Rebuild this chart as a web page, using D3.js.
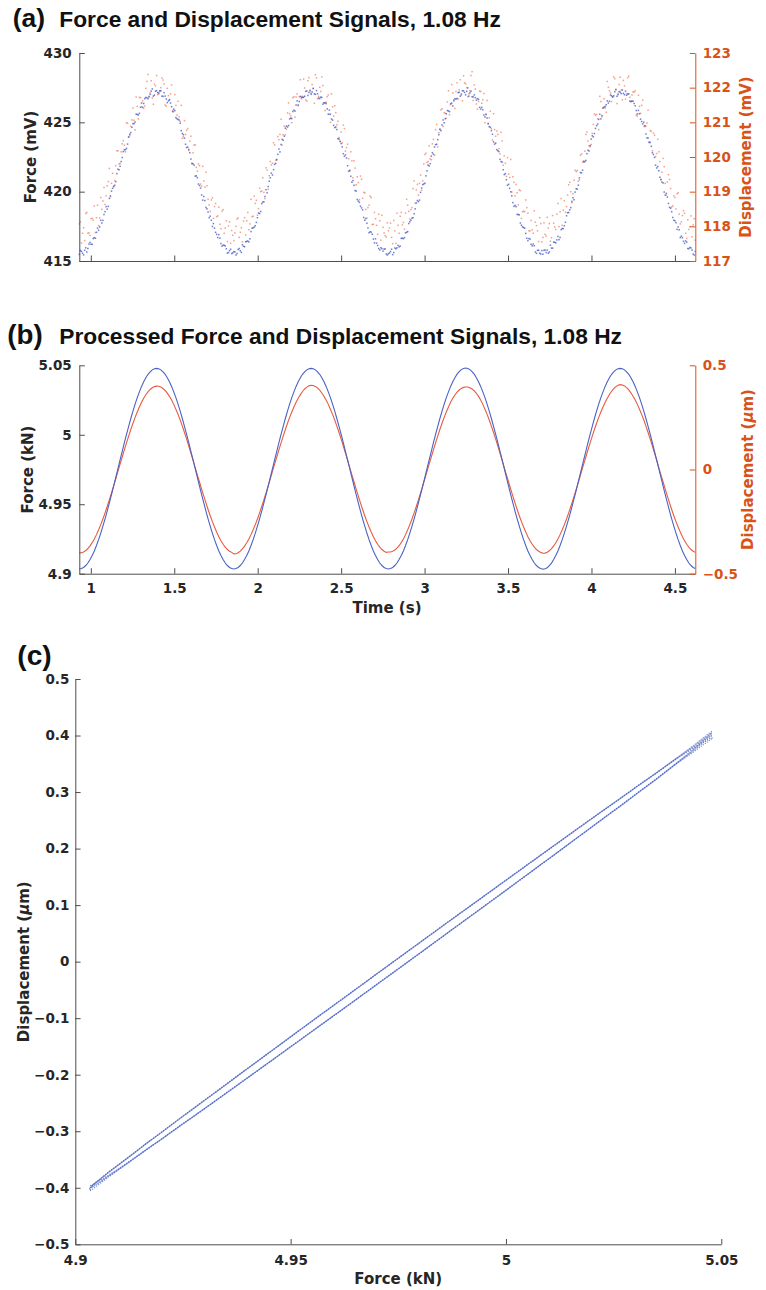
<!DOCTYPE html>
<html>
<head>
<meta charset="utf-8">
<script src="https://cdn.jsdelivr.net/npm/d3@7"></script>
<style>
  html, body { margin: 0; padding: 0; background: #fff; }
  svg { display: block; }
</style>
</head>
<body>
<svg id="fig" width="766" height="1290"></svg>
<script>
// ---- acquisition timing (s) ----
const startTime = 0.931;
const rawInterval = 0.0064305;     // raw channels
const sampleInterval = 0.012861;   // processed (decimated) signals

// ---- raw load-cell signal (mV) ----
const forceRaw = [
  415.48, 415.75, 415.70, 415.56, 415.44, 415.77, 415.95, 415.65, 415.90, 416.22, 416.34, 416.21,
  416.20, 416.62, 416.68, 416.64, 417.07, 417.37, 417.21, 417.46, 417.93, 417.74, 417.93, 418.35,
  418.56, 418.92, 418.74, 418.94, 419.51, 419.70, 420.04, 420.24, 420.36, 420.46, 420.72, 421.30,
  421.62, 421.58, 421.83, 422.17, 422.46, 422.89, 423.02, 423.03, 423.12, 423.43, 423.95, 424.14,
  424.26, 424.64, 424.91, 424.90, 425.02, 425.59, 425.57, 425.53, 425.65, 426.08, 426.39, 426.08,
  426.36, 426.71, 426.79, 426.78, 426.70, 426.83, 427.02, 427.25, 427.41, 426.89, 426.96, 427.24,
  427.29, 427.15, 427.11, 427.28, 427.28, 426.89, 426.87, 427.14, 426.89, 426.68, 426.42, 426.55,
  426.61, 426.39, 426.13, 425.77, 425.95, 425.85, 425.34, 425.26, 425.21, 425.17, 424.94, 424.40,
  424.20, 424.11, 423.86, 423.42, 423.18, 423.22, 423.05, 422.81, 422.35, 422.02, 422.01, 421.91,
  421.12, 421.14, 421.01, 420.55, 420.44, 420.26, 419.76, 419.39, 419.65, 419.36, 418.86, 418.76,
  418.53, 418.12, 418.23, 417.94, 417.49, 417.70, 417.37, 417.07, 416.92, 416.69, 416.90, 416.65,
  416.26, 416.07, 416.14, 416.13, 416.09, 415.88, 415.57, 415.61, 415.75, 415.85, 415.54, 415.58,
  415.67, 415.66, 415.43, 415.54, 415.83, 415.90, 415.74, 415.62, 416.17, 416.06, 416.03, 416.39,
  416.41, 416.44, 416.38, 416.60, 417.12, 417.36, 417.39, 417.44, 417.54, 417.78, 418.12, 418.46,
  418.42, 418.57, 419.14, 419.25, 419.27, 419.65, 420.14, 419.92, 420.37, 420.75, 421.00, 421.34,
  421.20, 421.59, 421.97, 422.04, 422.32, 422.69, 423.07, 422.87, 423.40, 423.77, 423.71, 424.00,
  424.58, 424.73, 424.66, 424.77, 425.25, 425.30, 425.27, 425.78, 425.88, 425.81, 426.25, 426.55,
  426.25, 426.50, 426.87, 426.80, 426.80, 426.80, 426.88, 427.23, 427.26, 426.94, 427.15, 427.27,
  427.02, 427.19, 427.44, 427.05, 427.02, 427.29, 427.06, 426.76, 426.71, 426.82, 426.79, 426.31,
  426.41, 426.41, 426.35, 425.97, 425.59, 425.88, 425.58, 425.24, 425.16, 424.78, 424.62, 424.66,
  424.48, 423.82, 423.79, 423.63, 423.47, 423.23, 422.74, 422.55, 422.65, 422.43, 421.87, 421.47,
  421.51, 421.11, 420.68, 420.80, 420.46, 420.08, 420.04, 419.44, 419.32, 419.23, 418.95, 418.83,
  418.69, 418.14, 417.94, 418.06, 417.72, 417.39, 417.04, 417.11, 417.08, 416.93, 416.58, 416.31,
  416.60, 416.29, 416.12, 415.90, 415.80, 415.96, 415.89, 415.71, 415.86, 415.87, 415.51, 415.43,
  415.52, 415.58, 415.68, 415.85, 415.46, 415.61, 415.94, 415.88, 415.95, 416.13, 416.02, 416.07,
  416.63, 416.65, 416.61, 416.69, 417.03, 417.07, 417.12, 417.70, 417.83, 417.94, 418.10, 418.12,
  418.41, 418.76, 419.18, 419.36, 419.28, 419.39, 419.95, 420.26, 420.51, 420.55, 420.61, 421.14,
  421.50, 421.91, 421.85, 422.02, 422.56, 422.81, 422.70, 423.22, 423.39, 423.42, 423.75, 424.11,
  424.51, 424.40, 424.81, 425.17, 424.97, 425.26, 425.61, 425.85, 425.82, 425.77, 426.34, 426.39,
  426.18, 426.55, 426.70, 426.68, 426.72, 427.14, 427.17, 426.89, 427.04, 427.28, 427.27, 427.15,
  426.98, 427.24, 427.48, 426.89, 427.13, 427.25, 426.85, 426.83, 426.98, 426.78, 426.60, 426.71,
  426.66, 426.08, 425.96, 426.08, 425.91, 425.53, 425.39, 425.59, 425.31, 424.90, 424.69, 424.64,
  424.40, 424.14, 423.59, 423.43, 423.50, 423.03, 422.95, 422.89, 422.33, 422.17, 422.13, 421.58,
  421.23, 421.30, 420.86, 420.46, 420.53, 420.24, 419.99, 419.70, 419.21, 418.94, 419.01, 418.92,
  418.36, 418.35, 418.33, 417.74, 417.58, 417.46, 417.41, 417.37, 416.99, 416.64, 416.47, 416.62,
  416.58, 416.21, 416.09, 416.22, 416.10, 415.65, 415.55, 415.77, 415.77, 415.56, 415.50, 415.75,
  415.49, 415.77, 415.79, 415.61, 415.78, 415.56, 415.65, 416.14, 415.93, 415.93, 416.36, 416.35,
  416.31, 416.52, 416.77, 416.54, 416.70, 417.26, 417.35, 417.33, 417.54, 417.79, 418.26, 418.48,
  418.50, 418.69, 418.85, 419.30, 419.56, 419.42, 419.97, 420.21, 420.18, 420.47, 421.00, 421.38,
  421.36, 421.55, 422.15, 422.16, 422.25, 422.74, 422.99, 422.93, 423.32, 423.79, 424.03, 423.95,
  424.19, 424.56, 424.76, 424.88, 425.21, 425.58, 425.25, 425.49, 426.04, 426.10, 426.14, 426.27,
  426.55, 426.39, 426.52, 426.97, 426.91, 426.85, 426.91, 427.21, 427.37, 426.88, 427.00, 427.22,
  427.17, 427.07, 427.33, 427.09, 426.99, 427.25, 426.95, 427.04, 427.06, 426.53, 426.49, 426.54,
  426.52, 426.36, 426.19, 425.85, 425.61, 425.86, 425.62, 425.23, 425.06, 424.89, 425.01, 424.76,
  424.16, 423.88, 423.87, 423.55, 423.55, 423.27, 422.81, 422.68, 422.47, 421.91, 421.71, 421.81,
  421.51, 421.04, 420.87, 420.69, 420.63, 419.97, 419.75, 419.88, 419.61, 419.15, 418.87, 418.81,
  418.55, 418.14, 417.94, 417.90, 417.76, 417.28, 417.46, 417.25, 416.69, 416.79, 416.68, 416.42,
  416.27, 416.45, 416.36, 415.90, 415.89, 415.98, 415.94, 415.79, 415.50, 415.43, 415.69, 415.54
];

// ---- raw displacement transducer signal (mV) ----
const dispRaw = [
  118.07, 118.13, 117.52, 117.80, 117.96, 117.59, 118.37, 118.40, 117.80, 117.81, 117.74, 118.22,
  118.23, 118.18, 118.59, 117.82, 118.25, 118.61, 118.02, 118.24, 118.83, 118.49, 118.73, 119.12,
  118.63, 118.88, 119.17, 119.29, 119.67, 118.85, 119.24, 119.53, 119.16, 119.32, 119.75, 120.18,
  120.18, 119.80, 119.81, 120.15, 120.38, 120.47, 120.34, 120.15, 120.99, 120.97, 120.57, 120.62,
  120.89, 121.07, 121.41, 121.06, 120.78, 121.73, 121.46, 121.10, 121.72, 121.71, 121.45, 121.62,
  121.40, 121.47, 121.98, 122.18, 122.38, 121.75, 121.85, 122.20, 121.70, 121.52, 122.10, 122.05,
  122.35, 121.80, 121.82, 121.89, 122.00, 122.28, 122.22, 122.11, 121.50, 121.47, 121.98, 121.77,
  121.66, 121.82, 122.08, 121.34, 121.31, 121.80, 121.49, 121.21, 121.61, 121.16, 121.03, 121.49,
  120.54, 120.59, 121.05, 120.65, 120.77, 120.82, 120.19, 120.46, 120.60, 119.82, 120.12, 120.34,
  120.35, 119.70, 119.59, 119.80, 119.75, 119.22, 119.16, 119.73, 119.31, 119.13, 119.56, 119.17,
  118.78, 118.62, 118.43, 118.76, 118.82, 118.23, 118.57, 118.66, 118.28, 118.30, 118.55, 118.06,
  117.93, 118.44, 118.48, 117.80, 117.95, 118.16, 117.56, 118.01, 118.13, 117.51, 117.88, 117.74,
  117.59, 117.81, 118.00, 118.21, 118.24, 117.68, 117.83, 117.96, 117.55, 118.15, 118.25, 117.75,
  118.16, 118.40, 117.90, 118.07, 118.78, 118.28, 118.29, 118.87, 118.66, 118.75, 118.32, 118.51,
  119.10, 119.00, 119.02, 119.40, 118.98, 118.80, 119.69, 119.62, 119.07, 119.46, 119.87, 119.77,
  119.82, 120.41, 120.35, 119.91, 119.91, 120.59, 120.50, 120.65, 121.09, 120.34, 120.64, 120.89,
  120.64, 120.80, 121.27, 121.56, 121.25, 121.19, 120.99, 121.71, 121.74, 121.15, 121.73, 121.82,
  121.48, 121.74, 122.23, 121.68, 121.75, 122.25, 121.99, 121.65, 121.61, 122.20, 122.29, 121.93,
  121.84, 122.09, 121.98, 121.55, 122.37, 122.28, 121.68, 121.75, 122.01, 121.89, 122.31, 122.06,
  121.56, 121.34, 121.58, 121.74, 121.79, 121.23, 121.00, 121.82, 121.45, 121.18, 121.48, 121.28,
  120.93, 121.03, 120.56, 120.45, 120.72, 120.41, 120.92, 120.82, 120.17, 120.27, 120.37, 119.95,
  119.62, 120.15, 119.89, 119.40, 119.89, 119.68, 119.20, 119.43, 119.26, 118.77, 119.45, 119.36,
  118.81, 118.98, 118.96, 118.49, 118.24, 118.54, 118.61, 118.87, 118.83, 118.05, 118.06, 118.40,
  118.22, 118.03, 117.77, 118.35, 118.16, 117.60, 118.32, 117.97, 117.81, 117.73, 117.69, 118.10,
  117.87, 117.95, 118.09, 117.68, 117.50, 118.17, 117.87, 117.51, 118.38, 118.03, 117.80, 118.29,
  118.40, 118.04, 118.11, 117.92, 118.38, 118.78, 118.61, 118.43, 118.21, 118.48, 118.54, 119.09,
  119.31, 118.67, 119.05, 119.21, 118.90, 119.24, 119.48, 119.04, 119.31, 119.80, 120.07, 120.11,
  119.84, 119.87, 120.32, 119.95, 119.92, 120.38, 120.51, 120.05, 120.79, 120.94, 120.29, 120.70,
  120.79, 121.36, 121.39, 120.88, 121.28, 121.26, 121.12, 121.59, 121.91, 121.22, 121.51, 122.09,
  121.85, 121.65, 121.40, 121.89, 122.14, 121.67, 121.94, 122.23, 121.78, 121.62, 122.34, 122.14,
  122.11, 122.00, 121.74, 121.82, 121.91, 122.35, 122.46, 121.63, 122.08, 121.96, 121.53, 121.38,
  121.60, 121.90, 121.89, 121.55, 121.65, 121.83, 120.99, 121.22, 121.63, 120.97, 121.13, 121.32,
  120.82, 120.49, 121.25, 120.79, 120.60, 120.75, 120.65, 120.24, 120.09, 120.71, 120.46, 119.76,
  120.03, 119.82, 119.44, 119.98, 119.51, 119.41, 119.93, 118.99, 119.43, 119.27, 118.88, 119.21,
  118.97, 118.62, 119.05, 119.03, 118.23, 118.42, 118.44, 118.42, 118.76, 118.54, 118.38, 117.87,
  117.87, 118.17, 117.90, 117.80, 118.45, 118.12, 118.02, 117.87, 117.56, 118.25, 118.08, 117.55,
  117.68, 118.10, 117.77, 117.72, 118.26, 117.95, 118.08, 117.57, 117.67, 118.31, 118.09, 117.98,
  117.91, 118.35, 118.66, 117.99, 118.42, 118.80, 118.03, 118.47, 118.74, 118.41, 118.57, 118.90,
  119.20, 119.27, 119.00, 118.68, 118.94, 119.33, 119.62, 119.58, 119.61, 119.30, 119.34, 120.05,
  120.09, 119.85, 119.89, 120.17, 120.65, 120.72, 120.46, 120.32, 120.30, 120.36, 120.68, 120.94,
  121.24, 121.20, 121.23, 121.10, 120.79, 121.75, 121.60, 121.16, 121.41, 121.68, 121.41, 121.29,
  122.18, 122.01, 121.91, 121.85, 121.60, 121.72, 122.31, 122.26, 121.94, 121.54, 121.83, 122.09,
  122.30, 121.93, 121.65, 122.21, 122.05, 121.67, 121.83, 122.28, 122.33, 121.72, 121.61, 121.79,
  121.88, 121.87, 121.91, 121.21, 121.18, 121.78, 121.46, 121.26, 121.49, 121.64, 120.88, 120.88,
  120.89, 120.98, 121.35, 120.43, 120.76, 120.74, 120.18, 120.69, 120.63, 120.01, 120.10, 120.51,
  120.15, 119.87, 119.35, 119.56, 119.96, 119.72, 119.24, 118.90, 119.28, 119.49, 119.35, 119.09,
  118.56, 118.59, 118.88, 118.83, 118.50, 118.94, 118.97, 118.35, 118.07, 118.13, 118.31, 118.45,
  118.38, 117.80, 117.65, 118.19, 117.91, 117.99, 118.30, 117.70, 118.04, 118.22, 117.60, 117.81
];

// ---- processed force (kN) ----
const forceKN = [
  4.9034, 4.9037, 4.9045, 4.9059, 4.9077, 4.9102, 4.9131, 4.9164, 4.9203, 4.9245, 4.9292, 4.9342,
  4.9395, 4.9451, 4.9509, 4.9569, 4.9631, 4.9693, 4.9756, 4.9819, 4.9881, 4.9943, 5.0003, 5.0061,
  5.0117, 5.0170, 5.0220, 5.0267, 5.0309, 5.0348, 5.0381, 5.0410, 5.0435, 5.0453, 5.0467, 5.0475,
  5.0478, 5.0475, 5.0467, 5.0453, 5.0435, 5.0410, 5.0381, 5.0348, 5.0309, 5.0267, 5.0220, 5.0170,
  5.0117, 5.0061, 5.0003, 4.9943, 4.9881, 4.9819, 4.9756, 4.9693, 4.9631, 4.9569, 4.9509, 4.9451,
  4.9395, 4.9342, 4.9292, 4.9245, 4.9203, 4.9164, 4.9131, 4.9102, 4.9077, 4.9059, 4.9045, 4.9037,
  4.9034, 4.9037, 4.9045, 4.9059, 4.9077, 4.9102, 4.9131, 4.9164, 4.9203, 4.9245, 4.9292, 4.9342,
  4.9395, 4.9451, 4.9509, 4.9569, 4.9631, 4.9693, 4.9756, 4.9819, 4.9881, 4.9943, 5.0003, 5.0061,
  5.0117, 5.0170, 5.0220, 5.0267, 5.0309, 5.0348, 5.0381, 5.0410, 5.0435, 5.0453, 5.0467, 5.0475,
  5.0478, 5.0475, 5.0467, 5.0453, 5.0435, 5.0410, 5.0381, 5.0348, 5.0309, 5.0267, 5.0220, 5.0170,
  5.0117, 5.0061, 5.0003, 4.9943, 4.9881, 4.9819, 4.9756, 4.9693, 4.9631, 4.9569, 4.9509, 4.9451,
  4.9395, 4.9342, 4.9292, 4.9245, 4.9203, 4.9164, 4.9131, 4.9102, 4.9077, 4.9059, 4.9045, 4.9037,
  4.9034, 4.9037, 4.9045, 4.9059, 4.9077, 4.9102, 4.9131, 4.9164, 4.9203, 4.9245, 4.9292, 4.9342,
  4.9395, 4.9451, 4.9509, 4.9569, 4.9631, 4.9693, 4.9756, 4.9819, 4.9881, 4.9943, 5.0003, 5.0061,
  5.0117, 5.0170, 5.0220, 5.0267, 5.0309, 5.0348, 5.0381, 5.0410, 5.0436, 5.0454, 5.0469, 5.0477,
  5.0480, 5.0477, 5.0469, 5.0454, 5.0436, 5.0410, 5.0381, 5.0348, 5.0309, 5.0267, 5.0220, 5.0170,
  5.0117, 5.0061, 5.0003, 4.9943, 4.9881, 4.9819, 4.9756, 4.9693, 4.9631, 4.9569, 4.9509, 4.9451,
  4.9395, 4.9342, 4.9292, 4.9245, 4.9203, 4.9164, 4.9131, 4.9102, 4.9077, 4.9059, 4.9045, 4.9037,
  4.9032, 4.9035, 4.9043, 4.9058, 4.9076, 4.9102, 4.9131, 4.9164, 4.9203, 4.9245, 4.9292, 4.9342,
  4.9395, 4.9451, 4.9509, 4.9569, 4.9631, 4.9693, 4.9756, 4.9819, 4.9881, 4.9943, 5.0003, 5.0061,
  5.0117, 5.0170, 5.0220, 5.0267, 5.0309, 5.0348, 5.0381, 5.0410, 5.0435, 5.0453, 5.0467, 5.0475,
  5.0478, 5.0475, 5.0467, 5.0453, 5.0435, 5.0410, 5.0381, 5.0348, 5.0309, 5.0267, 5.0220, 5.0170,
  5.0117, 5.0061, 5.0003, 4.9943, 4.9881, 4.9819, 4.9756, 4.9693, 4.9631, 4.9569, 4.9509, 4.9451,
  4.9395, 4.9342, 4.9292, 4.9245, 4.9203, 4.9164, 4.9131, 4.9102, 4.9077, 4.9059, 4.9045, 4.9037
];

// ---- processed displacement (µm) ----
const dispUm = [
  -0.4000, -0.3993, -0.3956, -0.3888, -0.3791, -0.3665, -0.3511, -0.3331, -0.3125, -0.2895, -0.2644, -0.2372,
  -0.2082, -0.1776, -0.1457, -0.1126, -0.0787, -0.0443, -0.0094, 0.0255, 0.0601, 0.0944, 0.1279, 0.1605,
  0.1918, 0.2217, 0.2499, 0.2762, 0.3003, 0.3223, 0.3417, 0.3585, 0.3727, 0.3839, 0.3923, 0.3977,
  0.4000, 0.3993, 0.3956, 0.3888, 0.3791, 0.3665, 0.3511, 0.3331, 0.3125, 0.2895, 0.2644, 0.2372,
  0.2082, 0.1776, 0.1457, 0.1126, 0.0787, 0.0443, 0.0094, -0.0255, -0.0601, -0.0944, -0.1279, -0.1605,
  -0.1918, -0.2217, -0.2499, -0.2762, -0.3003, -0.3223, -0.3417, -0.3585, -0.3727, -0.3839, -0.3923, -0.3977,
  -0.4050, -0.4040, -0.3996, -0.3918, -0.3811, -0.3675, -0.3514, -0.3331, -0.3125, -0.2895, -0.2644, -0.2372,
  -0.2082, -0.1776, -0.1457, -0.1126, -0.0787, -0.0443, -0.0094, 0.0255, 0.0601, 0.0944, 0.1279, 0.1605,
  0.1918, 0.2217, 0.2499, 0.2762, 0.3003, 0.3223, 0.3420, 0.3593, 0.3743, 0.3863, 0.3955, 0.4014,
  0.4040, 0.4030, 0.3988, 0.3912, 0.3807, 0.3673, 0.3514, 0.3331, 0.3125, 0.2895, 0.2644, 0.2372,
  0.2082, 0.1776, 0.1457, 0.1126, 0.0787, 0.0443, 0.0094, -0.0255, -0.0601, -0.0944, -0.1279, -0.1605,
  -0.1918, -0.2217, -0.2499, -0.2762, -0.3003, -0.3223, -0.3417, -0.3585, -0.3727, -0.3839, -0.3923, -0.3977,
  -0.3960, -0.3956, -0.3924, -0.3864, -0.3775, -0.3657, -0.3508, -0.3331, -0.3125, -0.2895, -0.2644, -0.2372,
  -0.2082, -0.1776, -0.1457, -0.1126, -0.0787, -0.0443, -0.0094, 0.0255, 0.0601, 0.0944, 0.1279, 0.1605,
  0.1918, 0.2217, 0.2499, 0.2762, 0.3003, 0.3223, 0.3414, 0.3577, 0.3711, 0.3815, 0.3891, 0.3940,
  0.3960, 0.3956, 0.3924, 0.3864, 0.3775, 0.3657, 0.3508, 0.3331, 0.3125, 0.2895, 0.2644, 0.2372,
  0.2082, 0.1776, 0.1457, 0.1126, 0.0787, 0.0443, 0.0094, -0.0255, -0.0601, -0.0944, -0.1279, -0.1605,
  -0.1918, -0.2217, -0.2499, -0.2762, -0.3003, -0.3223, -0.3417, -0.3585, -0.3727, -0.3839, -0.3923, -0.3977,
  -0.4020, -0.4012, -0.3972, -0.3900, -0.3799, -0.3669, -0.3512, -0.3331, -0.3125, -0.2895, -0.2644, -0.2372,
  -0.2082, -0.1776, -0.1457, -0.1126, -0.0787, -0.0443, -0.0094, 0.0255, 0.0601, 0.0944, 0.1279, 0.1605,
  0.1918, 0.2217, 0.2499, 0.2762, 0.3003, 0.3223, 0.3422, 0.3599, 0.3755, 0.3881, 0.3979, 0.4042,
  0.4070, 0.4058, 0.4012, 0.3930, 0.3819, 0.3679, 0.3516, 0.3331, 0.3125, 0.2895, 0.2644, 0.2372,
  0.2082, 0.1776, 0.1457, 0.1126, 0.0787, 0.0443, 0.0094, -0.0255, -0.0601, -0.0944, -0.1279, -0.1605,
  -0.1918, -0.2217, -0.2499, -0.2762, -0.3003, -0.3223, -0.3417, -0.3585, -0.3727, -0.3839, -0.3923, -0.3977
];

// ---- tick values ----
const timeTicks = [1, 1.5, 2, 2.5, 3, 3.5, 4, 4.5];
const rawForceTicks = [415, 420, 425, 430];
const rawDispTicks = [117, 118, 119, 120, 121, 122, 123];
const forceTicks = [4.9, 4.95, 5, 5.05];
const dispTicksB = [-0.5, 0, 0.5];
const dispTicksC = [-0.5, -0.4, -0.3, -0.2, -0.1, 0, 0.1, 0.2, 0.3, 0.4, 0.5];

// ---- styling ----
const AXIS = "#4d4d4d", INK = "#262626", ORANGE = "#d95319";
const BLUE_LINE = "#4a62c4", RED_LINE = "#e95a3e";
const TICK_FONT = "bold 13.5px 'DejaVu Sans'";
const LABEL_FONT = "bold 15px 'DejaVu Sans'";
const TITLE_FAMILY = "'Liberation Sans', Arial, sans-serif";
const fmt = d3.format("~g");

const svg = d3.select("#fig");
const time = forceKN.map((_, i) => startTime + i * sampleInterval);
const rawTime = forceRaw.map((_, i) => startTime + i * rawInterval);

function addAxis(axis, tx, ty, color, textColor) {
  const g = svg.append("g")
    .attr("transform", `translate(${tx},${ty})`)
    .call(axis)
    .attr("font-family", null).attr("font-size", null);
  g.select(".domain").attr("stroke", color).attr("stroke-width", 1);
  g.selectAll(".tick line").attr("stroke", color).attr("stroke-width", 1);
  g.selectAll(".tick text").attr("fill", textColor).style("font", TICK_FONT);
  return g;
}

function fitWidth(sel, width) {
  const len = sel.node().getComputedTextLength();
  const fs = parseFloat(sel.style("font-size"));
  sel.style("font-size", (fs * width / len) + "px");
}

function title(tag, text, y, tagX, tagW, textW) {
  const t = svg.append("text").attr("x", tagX).attr("y", y)
    .style("font-family", TITLE_FAMILY).style("font-weight", "bold").style("font-size", "26px")
    .attr("fill", "#111").text(tag);
  fitWidth(t, tagW);
  if (text) {
    const s = svg.append("text").attr("x", 59.3).attr("y", y)
      .style("font-family", TITLE_FAMILY).style("font-weight", "bold").style("font-size", "18.5px")
      .attr("fill", "#111").text(text);
    fitWidth(s, textW);
  }
}

function vLabel(x, y, color, parts) {
  const t = svg.append("text")
    .attr("transform", `translate(${x},${y}) rotate(-90)`)
    .attr("text-anchor", "middle")
    .attr("fill", color)
    .style("font", LABEL_FONT);
  parts.forEach(p => {
    const s = t.append("tspan").text(p.text);
    if (p.italic) s.style("font-style", "italic");
  });
  return t;
}

function hLabel(x, y, text) {
  svg.append("text").attr("x", x).attr("y", y)
    .attr("text-anchor", "middle").attr("fill", INK)
    .style("font", LABEL_FONT).text(text);
}

// =========== (a) raw signals ===========
const xT = d3.scaleLinear().domain([time[0], time[time.length - 1]]).range([79.3, 695.3]);
const yAL = d3.scaleLinear().domain([415, 430]).range([261, 53]);
const yAR = d3.scaleLinear().domain([117, 123]).range([261, 53]);
const tMax = xT.domain()[1];

title("(a)", "Force and Displacement Signals, 1.08 Hz", 26.7, 12.7, 32.3, 442);

const rawIdx = d3.range(forceRaw.length).filter(i => rawTime[i] <= tMax);
const gA = svg.append("g");
gA.selectAll("rect.disp").data(rawIdx).join("rect")
  .attr("class", "disp")
  .attr("x", i => xT(rawTime[i]) - 0.75)
  .attr("y", i => yAR(dispRaw[i]) - 0.75)
  .attr("width", 1.5).attr("height", 1.5)
  .attr("fill", "#ef7659").attr("fill-opacity", 0.7);
gA.selectAll("rect.force").data(rawIdx).join("rect")
  .attr("class", "force")
  .attr("x", i => xT(rawTime[i]) - 0.75)
  .attr("y", i => yAL(forceRaw[i]) - 0.75)
  .attr("width", 1.5).attr("height", 1.5)
  .attr("fill", "#3d54c0").attr("fill-opacity", 0.75);

addAxis(d3.axisBottom(xT).tickValues(timeTicks).tickSize(-5.5).tickSizeOuter(0).tickFormat(""), 0, 261, AXIS, INK);
addAxis(d3.axisLeft(yAL).tickValues(rawForceTicks).tickSize(-5.5).tickSizeOuter(0).tickPadding(7.6).tickFormat(fmt), 79.3, 0, AXIS, INK);
addAxis(d3.axisRight(yAR).tickValues(rawDispTicks).tickSize(-5.5).tickSizeOuter(0).tickPadding(7.4).tickFormat(fmt), 695.3, 0, ORANGE, ORANGE);

vLabel(35.5, 157, INK, [{ text: "Force (mV)" }]);
vLabel(751, 157, ORANGE, [{ text: "Displacement (mV)" }]);

// =========== (b) processed signals ===========
const yBL = d3.scaleLinear().domain([4.9, 5.05]).range([573.7, 365.3]);
const yBR = d3.scaleLinear().domain([-0.5, 0.5]).range([573.7, 365.3]);

title("(b)", "Processed Force and Displacement Signals, 1.08 Hz", 344.4, 7.3, 35.4, 563);

svg.append("path")
  .attr("d", d3.line().x((d, i) => xT(time[i])).y(d => yBR(d))(dispUm))
  .attr("fill", "none").attr("stroke", RED_LINE).attr("stroke-width", 1.1);
svg.append("path")
  .attr("d", d3.line().x((d, i) => xT(time[i])).y(d => yBL(d))(forceKN))
  .attr("fill", "none").attr("stroke", BLUE_LINE).attr("stroke-width", 1.1);

addAxis(d3.axisBottom(xT).tickValues(timeTicks).tickSize(-5.5).tickSizeOuter(0).tickPadding(9.8).tickFormat(fmt), 0, 573.7, AXIS, INK);
addAxis(d3.axisLeft(yBL).tickValues(forceTicks).tickSize(-5.5).tickSizeOuter(0).tickPadding(7.6).tickFormat(fmt), 79.3, 0, AXIS, INK);
addAxis(d3.axisRight(yBR).tickValues(dispTicksB).tickSize(-5.5).tickSizeOuter(0).tickPadding(7.4).tickFormat(fmt), 695.3, 0, ORANGE, ORANGE);

vLabel(32.5, 469.5, INK, [{ text: "Force (kN)" }]);
vLabel(752.5, 469.5, ORANGE, [{ text: "Displacement (" }, { text: "μ", italic: true }, { text: "m)" }]);
hLabel(387, 613, "Time (s)");

// =========== (c) force–displacement loop ===========
const xC = d3.scaleLinear().domain([4.9, 5.05]).range([75.3, 721.3]);
const yC = d3.scaleLinear().domain([-0.5, 0.5]).range([1244.3, 679]);

title("(c)", null, 664.5, 17.3, 34.4, 0);

// one path per half cycle (trough→peak, peak→trough) so the dotted
// stroke starts at the same end of the loop on every pass
const halfLen = 36;
const segments = d3.range(0, forceKN.length - 1, halfLen)
  .map(s => d3.range(s, Math.min(s + halfLen, forceKN.length - 1) + 1));
const loopLine = d3.line().x(i => xC(forceKN[i])).y(i => yC(dispUm[i]));
svg.append("g").selectAll("path").data(segments).join("path")
  .attr("d", loopLine)
  .attr("fill", "none").attr("stroke", BLUE_LINE).attr("stroke-width", 1.2)
  .attr("stroke-dasharray", "1.2 1.3").attr("stroke-opacity", 0.7);

addAxis(d3.axisBottom(xC).tickValues(forceTicks).tickSize(-5.3).tickSizeOuter(0).tickPadding(10.7).tickFormat(fmt), 0, 1244.3, AXIS, INK);
addAxis(d3.axisLeft(yC).tickValues(dispTicksC).tickSize(-5.3).tickSizeOuter(0).tickPadding(6).tickFormat(fmt), 75.3, 0, AXIS, INK);

vLabel(29, 961.7, INK, [{ text: "Displacement (" }, { text: "μ", italic: true }, { text: "m)" }]);
hLabel(398.3, 1284, "Force (kN)");
</script>
</body>
</html>
